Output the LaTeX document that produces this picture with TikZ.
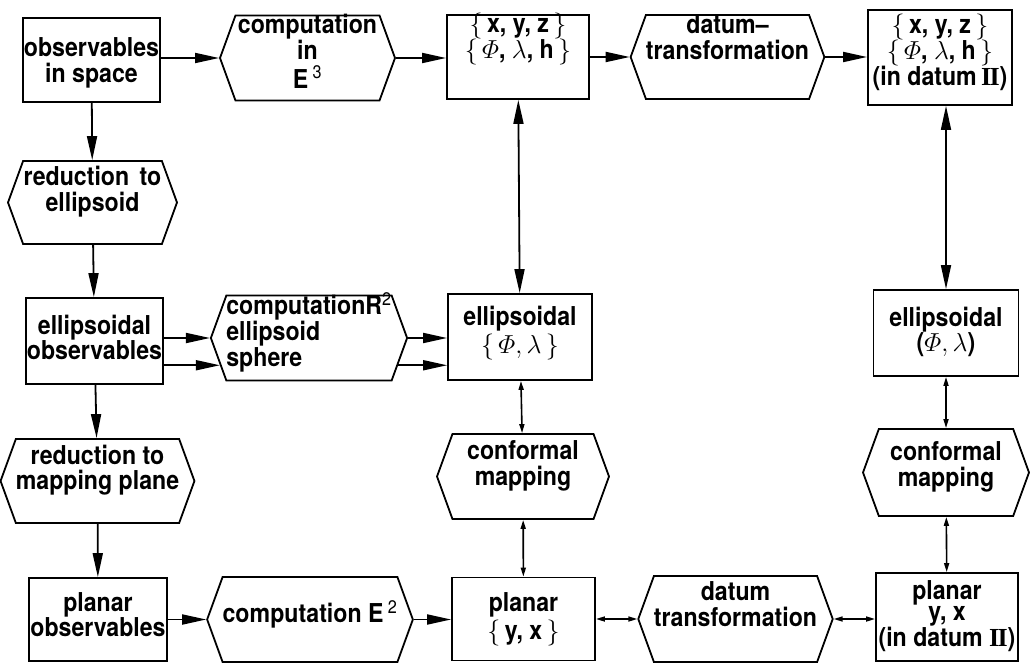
\RequirePackage{fix-cm}
\documentclass[tikz,border=0pt]{standalone}
\usepackage{amsmath}
\usepackage{fontspec}
\setmainfont{TeX Gyre Heros}[FakeStretch=0.89]
\newfontfamily\romfont{Liberation Serif}
\usetikzlibrary{shapes.symbols,arrows.meta}

\renewcommand{\arraystretch}{0.9}
\newcommand{\lines}[2][0pt]{\raisebox{\dimexpr#1-6pt\relax}[0pt][0pt]{\begin{tabular}{@{}c@{}}#2\end{tabular}}}
\newcommand{\dtwo}{{\romfont\bfseries I\kern-1.7ptI}}

\tikzset{
  every node/.style={font=\fontsize{26}{24}\selectfont\bfseries},
  box/.style={shape=rectangle,draw=black,line width=1.8pt,inner sep=0pt},
  hex/.style={shape=signal,signal to=west and east,signal pointer angle=140,
    draw=black,line width=1.8pt,inner sep=0pt},
  big/.style={line width=1.8pt,-{Triangle[length=24pt,width=10pt]}},
  bigboth/.style={line width=1.8pt,{Triangle[length=24pt,width=10pt]}-{Triangle[length=24pt,width=10pt]}},
  smallboth/.style={line width=1.6pt,{Triangle[length=9pt,width=5pt]}-{Triangle[length=9pt,width=5pt]}}
}

\begin{document}
\begin{tikzpicture}[x=1pt,y=-1pt]
    \useasboundingbox (0,0) rectangle (1030,666);

    % top row
    \node[box,minimum width=137pt,minimum height=84pt] (obs) at (91.5,60) {\lines[-4pt]{observables\\in space}};
    \node[hex,minimum width=175pt,minimum height=85pt] (compE3) at (307.5,58) {\lines[3pt]{computation\\in\\E\,\textsuperscript{\mdseries 3}}};
    \node[box,minimum width=142pt,minimum height=84pt] (xyz) at (518,57) {\lines[17pt]{$\{$\,x, y, z\,$\}$\\$\{\,\varPhi$, $\lambda$, h\,$\}$}};
    \node[hex,minimum width=175pt,minimum height=84pt] (datumT) at (727.5,57) {\lines[16pt]{datum--\\transformation}};
    \node[box,minimum width=144pt,minimum height=95pt] (dII) at (940,57.5) {\lines[4pt]{$\{$\,x, y, z\,$\}$\\$\{\,\varPhi$, $\lambda$, h\,$\}$\\(in datum\,\dtwo)}};

    % left column
    \node[hex,minimum width=169pt,minimum height=83pt] (red1) at (92.5,202.5) {\lines[10pt]{reduction\hspace{0.4em}to\\ellipsoid}};
    \node[box,minimum width=137pt,minimum height=86pt] (ellobs) at (94.5,341) {\lines{ellipsoidal\\observables}};
    \node[hex,minimum width=169pt,minimum height=84pt] (red2) at (97.5,481) {\lines[10pt]{reduction to\\mapping plane}};
    \node[box,minimum width=138pt,minimum height=83pt] (planobs) at (98,619.5) {\lines[1pt]{planar\\observables}};

    % middle
    \node[hex,minimum width=174pt,minimum height=85pt] (R2) at (309,338) {\raisebox{-1pt}[0pt][0pt]{\begin{tabular}{@{}l@{}}computationR\textsuperscript{\mdseries 2}\\ellipsoid\\sphere\end{tabular}}};
    \node[box,minimum width=144pt,minimum height=86pt] (ellmid) at (520,337) {\lines[3pt]{ellipsoidal\\[2pt]$\{\,\varPhi,\lambda\,\}$}};
    \node[hex,minimum width=172pt,minimum height=85pt] (confmid) at (523,476.5) {\lines[10pt]{conformal\\mapping}};
    \node[hex,minimum width=174pt,minimum height=85pt] (compE2) at (310,619.5) {\lines[4pt]{computation E\,\textsuperscript{\mdseries 2}}};
    \node[box,minimum width=143pt,minimum height=83pt] (planar) at (523.5,619) {\lines[-1pt]{planar\\[2pt]$\{$\,y, x\,$\}$}};
    \node[hex,minimum width=171pt,minimum height=86pt] (datumT2) at (735.5,619) {\lines[11pt]{datum\\transformation}};

    % right column
    \node[box,minimum width=145pt,minimum height=86pt] (ellright) at (946,333) {\lines{ellipsoidal\\($\varPhi,\lambda$)}};
    \node[hex,minimum width=166pt,minimum height=87pt] (confright) at (946,472.5) {\lines[5pt]{conformal\\mapping}};
    \node[box,minimum width=142pt,minimum height=88pt] (planarR) at (947,617) {\lines{planar\\y, x\\(in datum \dtwo)}};

    \path [big] (compE3.west -| obs.east) edge (compE3.west);
    \path [big] (compE3.east) edge (compE3.east -| xyz.west);
    \path [big] (datumT.west -| xyz.east) edge (datumT.west);
    \path [big] (datumT.east) edge (datumT.east -| dII.west);

    \path [big] (obs) edge (red1);
    \path [big] (red1) edge (ellobs);
    \path [big] (ellobs) edge (red2);
    \path [big] (red2) edge (planobs);

    \path [big] (R2.west -| ellobs.east) edge (R2.west);
    \path [big] (R2.197 -| ellobs.east) edge (R2.197);
    \path [big] (R2.east) edge (R2.east -| ellmid.west);
    \path [big] (R2.343) edge (R2.343 -| ellmid.west);

    \path [big] (compE2.west -| planobs.east) edge (compE2.west);
    \path [big] (compE2.east) edge (compE2.east -| planar.west);
    \path [smallboth] (datumT2.west -| planar.east) edge (datumT2.west);
    \path [smallboth] (datumT2.east) edge (datumT2.east -| planarR.west);

    \path [bigboth] (xyz) edge (ellmid);
    \path [smallboth] (ellmid) edge (confmid);
    \path [smallboth] (confmid) edge (planar);

    \path [bigboth] (ellright.north |- dII.south) edge (ellright.north);
    \path [smallboth] (ellright) edge (confright);
    \path [smallboth] (confright) edge (planarR);
\end{tikzpicture}
\end{document}
